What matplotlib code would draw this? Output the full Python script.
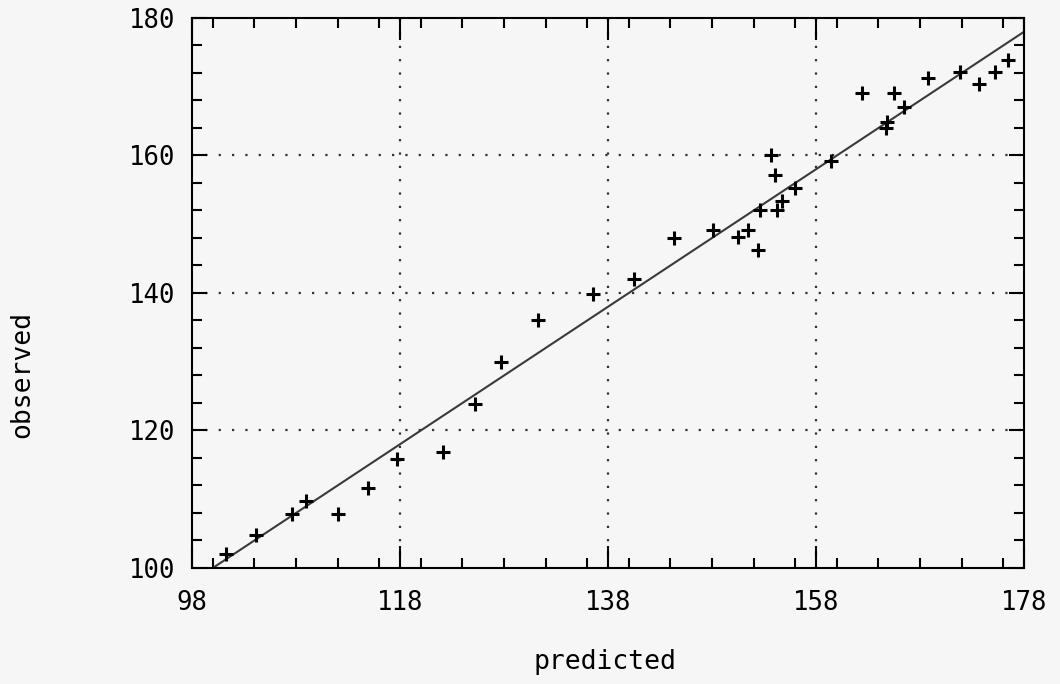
import numpy as np
import matplotlib.pyplot as plt
from matplotlib.ticker import MultipleLocator

# Data
predicted = [101.3, 104.2, 107.6, 109.0, 112.0, 114.9, 117.7, 122.1, 125.2,
             127.7, 131.3, 136.6, 140.5, 144.3, 148.1, 150.5, 151.5, 152.4,
             152.6, 153.7, 154.1, 154.2, 154.7, 156.0, 159.4, 162.4, 164.7,
             164.8, 165.5, 166.5, 168.8, 171.8, 173.7, 175.2, 176.5]
observed = [102.0, 104.8, 107.8, 109.8, 107.9, 111.7, 115.8, 116.8, 123.9,
            129.9, 136.0, 139.8, 142.0, 148.0, 149.1, 148.1, 149.1, 146.3,
            152.1, 160.0, 157.1, 152.1, 153.4, 155.2, 159.2, 169.1, 164.0,
            164.8, 169.1, 167.1, 171.2, 172.2, 170.4, 172.2, 173.9]
x_ticks = [98, 118, 138, 158, 178]
y_ticks = [100, 120, 140, 160, 180]

plt.rcParams['font.family'] = ['DejaVu Sans Mono']
bg = '#f6f6f6'

fig = plt.figure(figsize=(10.6, 6.84), dpi=100, facecolor=bg)
ax = fig.add_axes([0.1811, 0.1696, 0.785, 0.8041], facecolor=bg)

# 1:1 reference line
ref = np.array([98, 178])
ax.plot(ref, ref, color='#3a3a3a', lw=1.5, zorder=2)

ax.plot(predicted, observed, ls='none', marker='+', ms=10, mew=2.2,
        color='black', zorder=3)

ax.set_xlim(98, 178)
ax.set_ylim(100, 180)
ax.set_xticks(x_ticks)
ax.set_yticks(y_ticks)
ax.xaxis.set_minor_locator(MultipleLocator(4))
ax.yaxis.set_minor_locator(MultipleLocator(4))

# dotted grid only at the inner major positions
for v in x_ticks[1:-1]:
    ax.axvline(v, color='#333333', lw=1.6, ls=(0, (1, 5)), zorder=1)
for v in y_ticks[1:-1]:
    ax.axhline(v, color='#333333', lw=1.6, ls=(0, (1, 5)), zorder=1)

for s in ax.spines.values():
    s.set_linewidth(1.5)

ax.tick_params(axis='both', which='both', direction='in', top=True, right=True,
               width=1.5, labelsize=18.5)
ax.tick_params(axis='x', which='major', length=16, pad=16)
ax.tick_params(axis='y', which='major', length=11, pad=12)
ax.tick_params(axis='both', which='minor', length=7.5)

fig.text(0.571, 0.032, 'predicted', ha='center', va='center', fontsize=19)
fig.text(0.021, 0.452, 'observed', ha='center', va='center', fontsize=19,
         rotation=90)

fig.savefig('out.png', dpi=100, facecolor=bg)
